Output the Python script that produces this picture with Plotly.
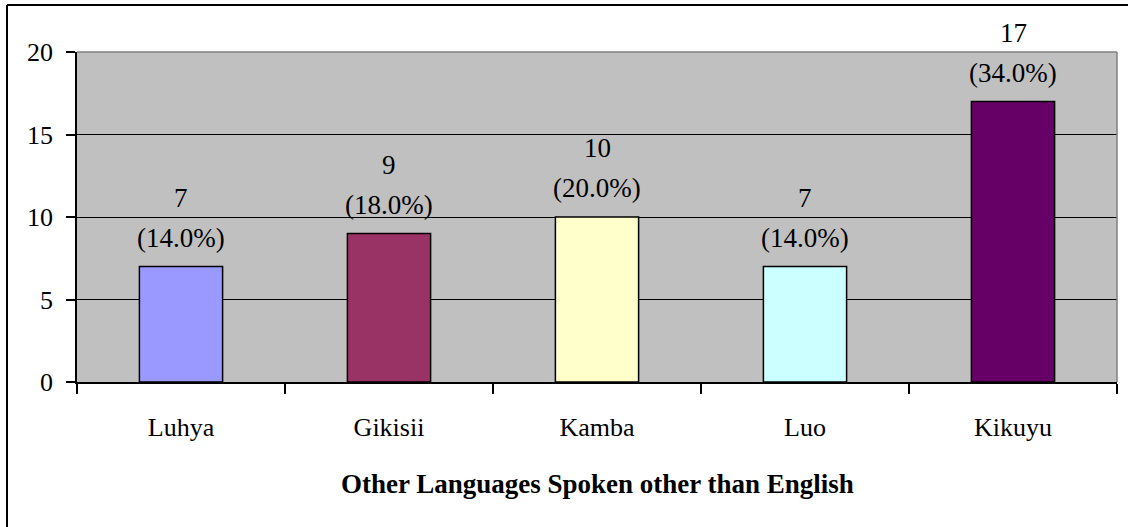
import plotly.graph_objects as go

categories = ["Luhya", "Gikisii", "Kamba", "Luo", "Kikuyu"]
counts = [7, 9, 10, 7, 17]
percents = ["(14.0%)", "(18.0%)", "(20.0%)", "(14.0%)", "(34.0%)"]
bar_colors = ["#9999FF", "#993366", "#FFFFCC", "#CCFFFF", "#660066"]
y_ticks = [0, 5, 10, 15, 20]
x_title = "Other Languages Spoken other than English"

FONT = "Liberation Serif, Times New Roman, serif"
W, H = 1128, 527
L, R, T, B = 77, 11, 52, 145
pw, ph = W - L - R, H - T - B

fig = go.Figure()
fig.add_trace(go.Bar(
    x=categories, y=counts,
    marker=dict(color=bar_colors, line=dict(color="black", width=1.5)),
    width=0.4, showlegend=False, hoverinfo="skip",
))

annotations = []
for c, v, p in zip(categories, counts, percents):
    annotations.append(dict(x=c, y=v, xref="x", yref="y", text=p, showarrow=False,
                            yanchor="middle", yshift=29,
                            font=dict(family=FONT, size=27, color="black")))
    annotations.append(dict(x=c, y=v, xref="x", yref="y", text=str(v), showarrow=False,
                            yanchor="middle", yshift=69,
                            font=dict(family=FONT, size=27, color="black")))
annotations.append(dict(x=0.5, y=(382 - 484) / ph, xref="paper", yref="paper",
                        text="<b>" + x_title + "</b>", showarrow=False,
                        yanchor="middle", font=dict(family=FONT, size=27, color="black")))

shapes = [
    # plot-area border (top & right) in gray
    dict(type="line", xref="paper", yref="paper", x0=0, x1=1, y0=1, y1=1,
         line=dict(color="#808080", width=1.5), layer="above"),
    dict(type="line", xref="paper", yref="paper", x0=1, x1=1, y0=0, y1=1,
         line=dict(color="#808080", width=1.5), layer="above"),
    # outer chart frame (top & left visible)
    dict(type="line", xref="paper", yref="paper",
         x0=(7 - L) / pw, x1=(W + 5 - L) / pw, y0=(382 - 5) / ph, y1=(382 - 5) / ph,
         line=dict(color="black", width=2)),
    dict(type="line", xref="paper", yref="paper",
         x0=(7 - L) / pw, x1=(7 - L) / pw, y0=(382 - 5) / ph, y1=(382 - H - 5) / ph,
         line=dict(color="black", width=2)),
]

fig.update_layout(
    width=W, height=H,
    margin=dict(l=L, r=R, t=T, b=B, pad=0),
    paper_bgcolor="white", plot_bgcolor="#C0C0C0",
    font=dict(family=FONT, size=26, color="black"),
    annotations=annotations, shapes=shapes,
    bargap=0.6,
    xaxis=dict(type="category", showline=True, linecolor="black", linewidth=1.5,
               ticks="outside", tickson="boundaries", ticklen=10, tickcolor="black",
               tickwidth=1.5, showgrid=False, tickfont=dict(family=FONT, size=26),
               ticklabelstandoff=21, fixedrange=True),
    yaxis=dict(range=[0, 20], tickvals=y_ticks, showline=True, linecolor="black",
               linewidth=1.5, ticks="outside", ticklen=9, tickcolor="black", tickwidth=1.5,
               showgrid=True, gridcolor="black", gridwidth=1.4, zeroline=False,
               tickfont=dict(family=FONT, size=26), ticklabelstandoff=8, fixedrange=True),
)

fig.write_html("out.html", config={"displayModeBar": False},
               post_script="document.body.style.margin='0';document.body.style.overflow='hidden';")
